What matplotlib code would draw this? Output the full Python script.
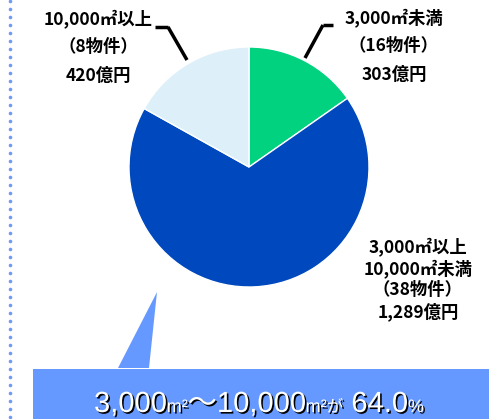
import numpy as np
import matplotlib
matplotlib.use("Agg")
import matplotlib.pyplot as plt
import matplotlib.patheffects as pe
from matplotlib.patches import Rectangle, Polygon

plt.rcParams['font.family'] = ['Noto Sans CJK JP', 'DejaVu Sans']

# slice shares as drawn (clockwise from 12 o'clock)
categories = ['3,000㎡未満', '3,000㎡以上\n10,000㎡未満', '10,000㎡以上']
shares = [15.3, 67.8, 16.9]
counts = [16, 38, 8]
amounts = ['303', '1,289', '420']
colors = ['#00D27F', '#0048BD', '#DDF0FA']
headline = [('3,000', 21), ('m²', 13), ('～10,000', 21), ('m²', 13),
            ('が', 12), (' 64.0', 21), ('%', 13)]

W, H = 495, 419
fig = plt.figure(figsize=(W / 100, H / 100), dpi=100)
ax = fig.add_axes([0, 0, 1, 1])


def Y(py):
    return H - py


# pie
ax.pie(shares, colors=colors, startangle=90, counterclock=False,
       center=(249, Y(167)), radius=120,
       wedgeprops=dict(edgecolor='white', linewidth=1))
ax.set_xlim(0, W)
ax.set_ylim(0, H)
ax.set_aspect('auto')
ax.axis('off')

# labels
lab_kw = dict(ha='center', va='center', fontsize=12.5, fontweight='bold', color='black')
ax.text(394, Y(46), f"{categories[0]}\n（{counts[0]}物件）\n{amounts[0]}億円",
        linespacing=1.75, **lab_kw)
ax.text(418, Y(279), f"{categories[1]}\n（{counts[1]}物件）\n{amounts[1]}億円",
        linespacing=1.2, **lab_kw)
ax.text(98, Y(47), f"{categories[2]}\n（{counts[2]}物件）\n{amounts[2]}億円",
        linespacing=1.75, **lab_kw)

# leader lines
ax.plot([323, 333], [Y(25), Y(25)], color='black', lw=2.5, solid_capstyle='butt')
ax.plot([323, 305], [Y(25), Y(58)], color='black', lw=2.5, solid_capstyle='butt')
ax.plot([155, 168], [Y(27), Y(27)], color='black', lw=2.5, solid_capstyle='butt')
ax.plot([168, 187], [Y(27), Y(60)], color='black', lw=2.5, solid_capstyle='butt')

# dotted border on the left
ys = np.arange(2, H, 8)
ax.plot(np.full(len(ys), 10), ys, ls='none', marker='o', ms=2.6,
        color='#6E9BF5', mec='none')

# callout box
box_c = '#6699FF'
ax.add_patch(Rectangle((33, 0), 456, Y(369), facecolor=box_c, edgecolor='none'))
ax.add_patch(Polygon([(118, Y(369) + 1), (149, Y(369) + 1), (157, Y(292))],
                     closed=True, facecolor=box_c, edgecolor='none'))

# headline: white text with a black drop shadow, built piece by piece
renderer = fig.canvas.get_renderer()
fam = ['Liberation Sans', 'Noto Sans CJK JP']
shadow = [pe.withSimplePatchShadow(offset=(1.15, -1.15), shadow_rgbFace='black', alpha=1.0)]
x = 94
for s, size in headline:
    t = ax.text(x, Y(412), s, fontsize=size, color='white', ha='left',
                va='baseline', family=fam, zorder=6, path_effects=shadow)
    x += t.get_window_extent(renderer=renderer).width

fig.savefig('out.png', dpi=100)
